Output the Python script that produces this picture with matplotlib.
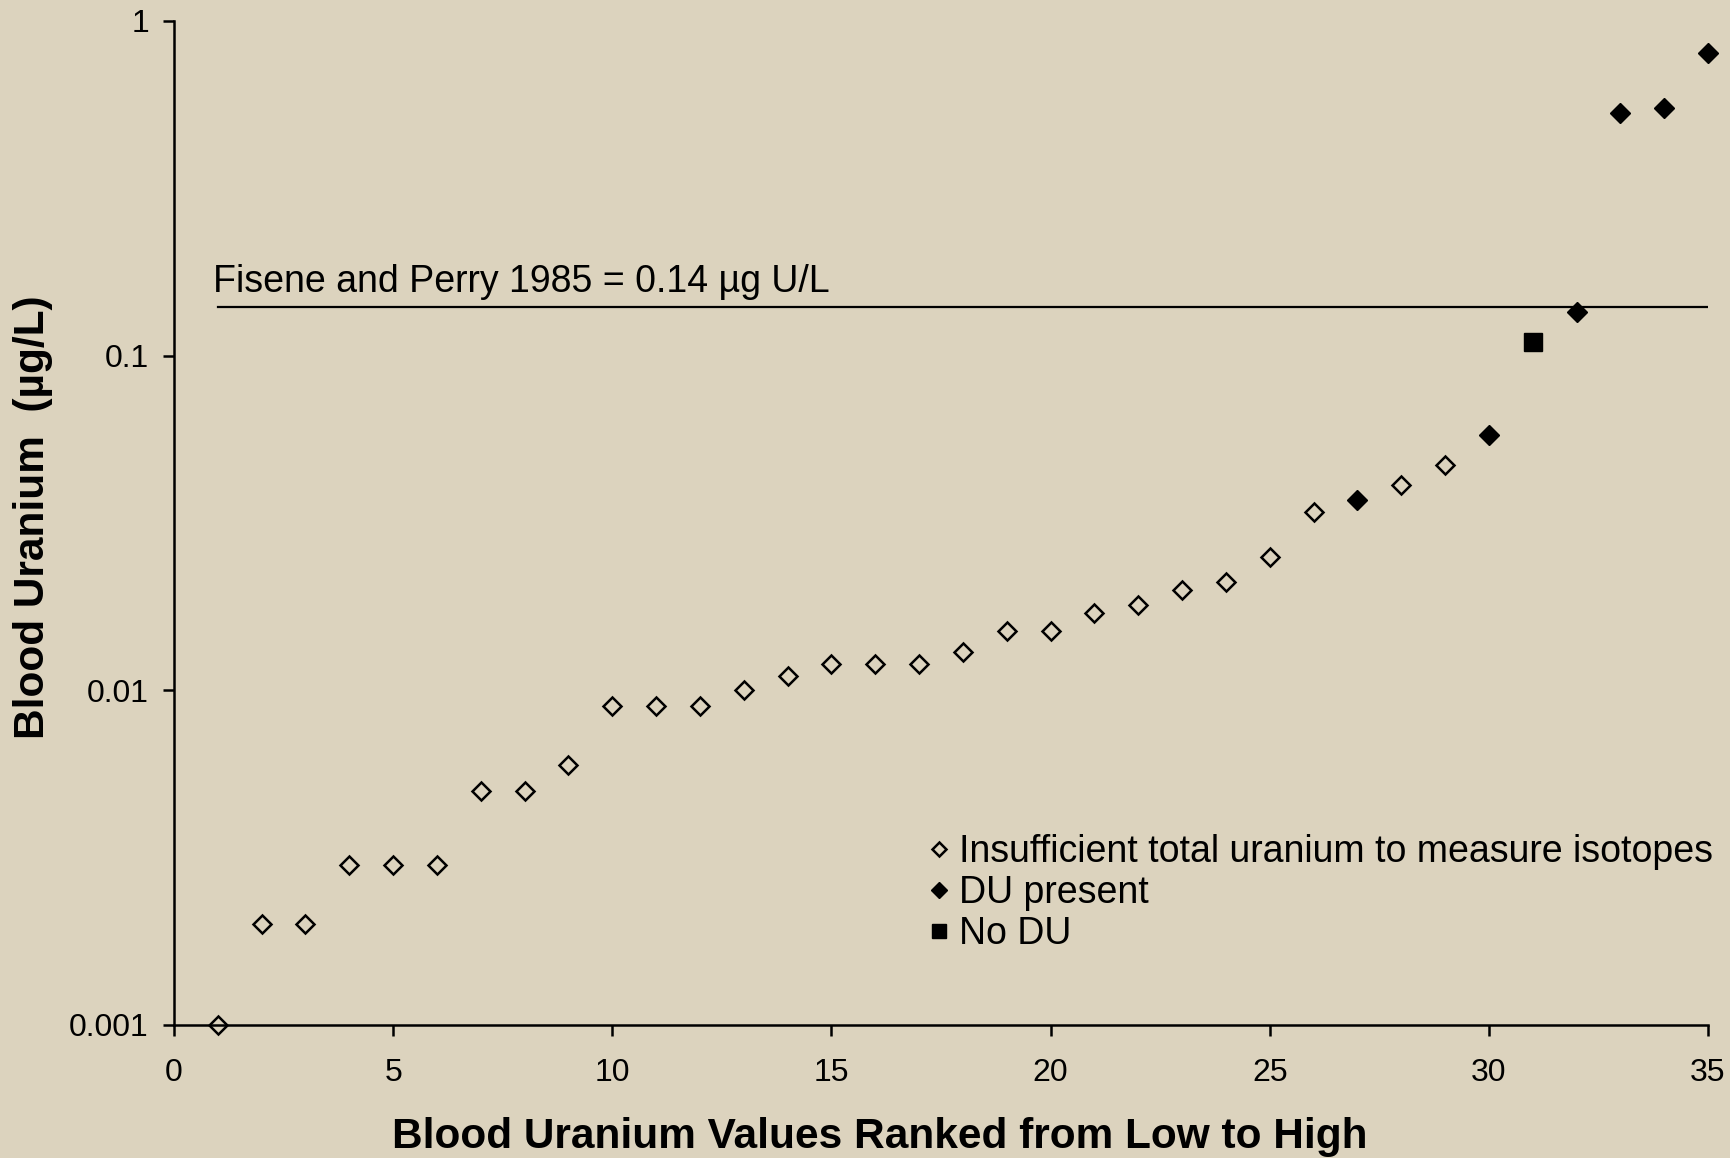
import matplotlib
matplotlib.use("Agg")
import matplotlib.pyplot as plt
from matplotlib.ticker import FixedLocator, FixedFormatter, NullLocator

plt.rcParams['font.family'] = ['Liberation Sans', 'DejaVu Sans']

# Data
insuff_rank = [1, 2, 3, 4, 5, 6, 7, 8, 9, 10, 11, 12, 13, 14, 15, 16, 17, 18,
               19, 20, 21, 22, 23, 24, 25, 26, 28, 29]
insuff_val = [0.001, 0.002, 0.002, 0.003, 0.003, 0.003, 0.005, 0.005, 0.006,
              0.009, 0.009, 0.009, 0.010, 0.011, 0.012, 0.012, 0.012, 0.013,
              0.015, 0.015, 0.017, 0.018, 0.020, 0.021, 0.025, 0.034, 0.041, 0.047]
du_rank = [27, 30, 32, 33, 34, 35]
du_val = [0.037, 0.058, 0.135, 0.53, 0.55, 0.80]
nodu_rank = [31]
nodu_val = [0.11]
ref_level = 0.14
ref_x = [1, 35]

x_ticks = [0, 5, 10, 15, 20, 25, 30, 35]
y_ticks = [0.001, 0.01, 0.1, 1]
y_tick_labels = ['0.001', '0.01', '0.1', '1']

bg = '#DCD3BE'
fig = plt.figure(figsize=(17.31, 11.58), dpi=100, facecolor=bg)
ax = fig.add_axes([174/1731, 1 - 1025/1158, (1708-174)/1731, (1025-21)/1158])
ax.set_facecolor(bg)

ax.plot(ref_x, [ref_level, ref_level], color='black', lw=1.6, zorder=2)
ax.plot(insuff_rank, insuff_val, ls='none', marker='D', ms=9, mfc='none',
        mec='black', mew=1.8, label='Insufficient total uranium to measure isotopes',
        clip_on=False, zorder=3)
ax.plot(du_rank, du_val, ls='none', marker='D', ms=10, mfc='black', mec='black',
        label='DU present', clip_on=False, zorder=3)
ax.plot(nodu_rank, nodu_val, ls='none', marker='s', ms=12.5, mfc='black', mec='black',
        label='No DU', clip_on=False, zorder=3)

ax.set_yscale('log')
ax.set_xlim(0, 35)
ax.set_ylim(0.001, 1)
ax.xaxis.set_major_locator(FixedLocator(x_ticks))
ax.yaxis.set_major_locator(FixedLocator(y_ticks))
ax.yaxis.set_major_formatter(FixedFormatter(y_tick_labels))
ax.yaxis.set_minor_locator(NullLocator())
for s in ['top', 'right']:
    ax.spines[s].set_visible(False)
for s in ['left', 'bottom']:
    ax.spines[s].set_linewidth(1.8)
ax.tick_params(axis='both', direction='out', length=8, width=1.8, labelsize=23, pad=10)
ax.tick_params(axis='x', pad=16)

ax.text(0.88, 0.147, 'Fisene and Perry 1985 = 0.14 \u00b5g U/L', fontsize=27,
        ha='left', va='bottom')

fig.text(880/1731, 1 - 1137/1158, 'Blood Uranium Values Ranked from Low to High',
         fontsize=30.5, fontweight='bold', ha='center', va='center')
fig.text(33/1731, 1 - 517/1158, 'Blood Uranium  (\u00b5g/L)', fontsize=30.5,
         fontweight='bold', ha='center', va='center', rotation=90)

leg = ax.legend(loc='upper left', bbox_to_anchor=(929/1731, 1 - 834/1158),
                bbox_transform=fig.transFigure, frameon=False, fontsize=27,
                handlelength=0.55, handletextpad=0.25, labelspacing=0.14,
                markerscale=0.8, borderpad=0, borderaxespad=0)

fig.savefig('out.png', dpi=100, facecolor=bg)
